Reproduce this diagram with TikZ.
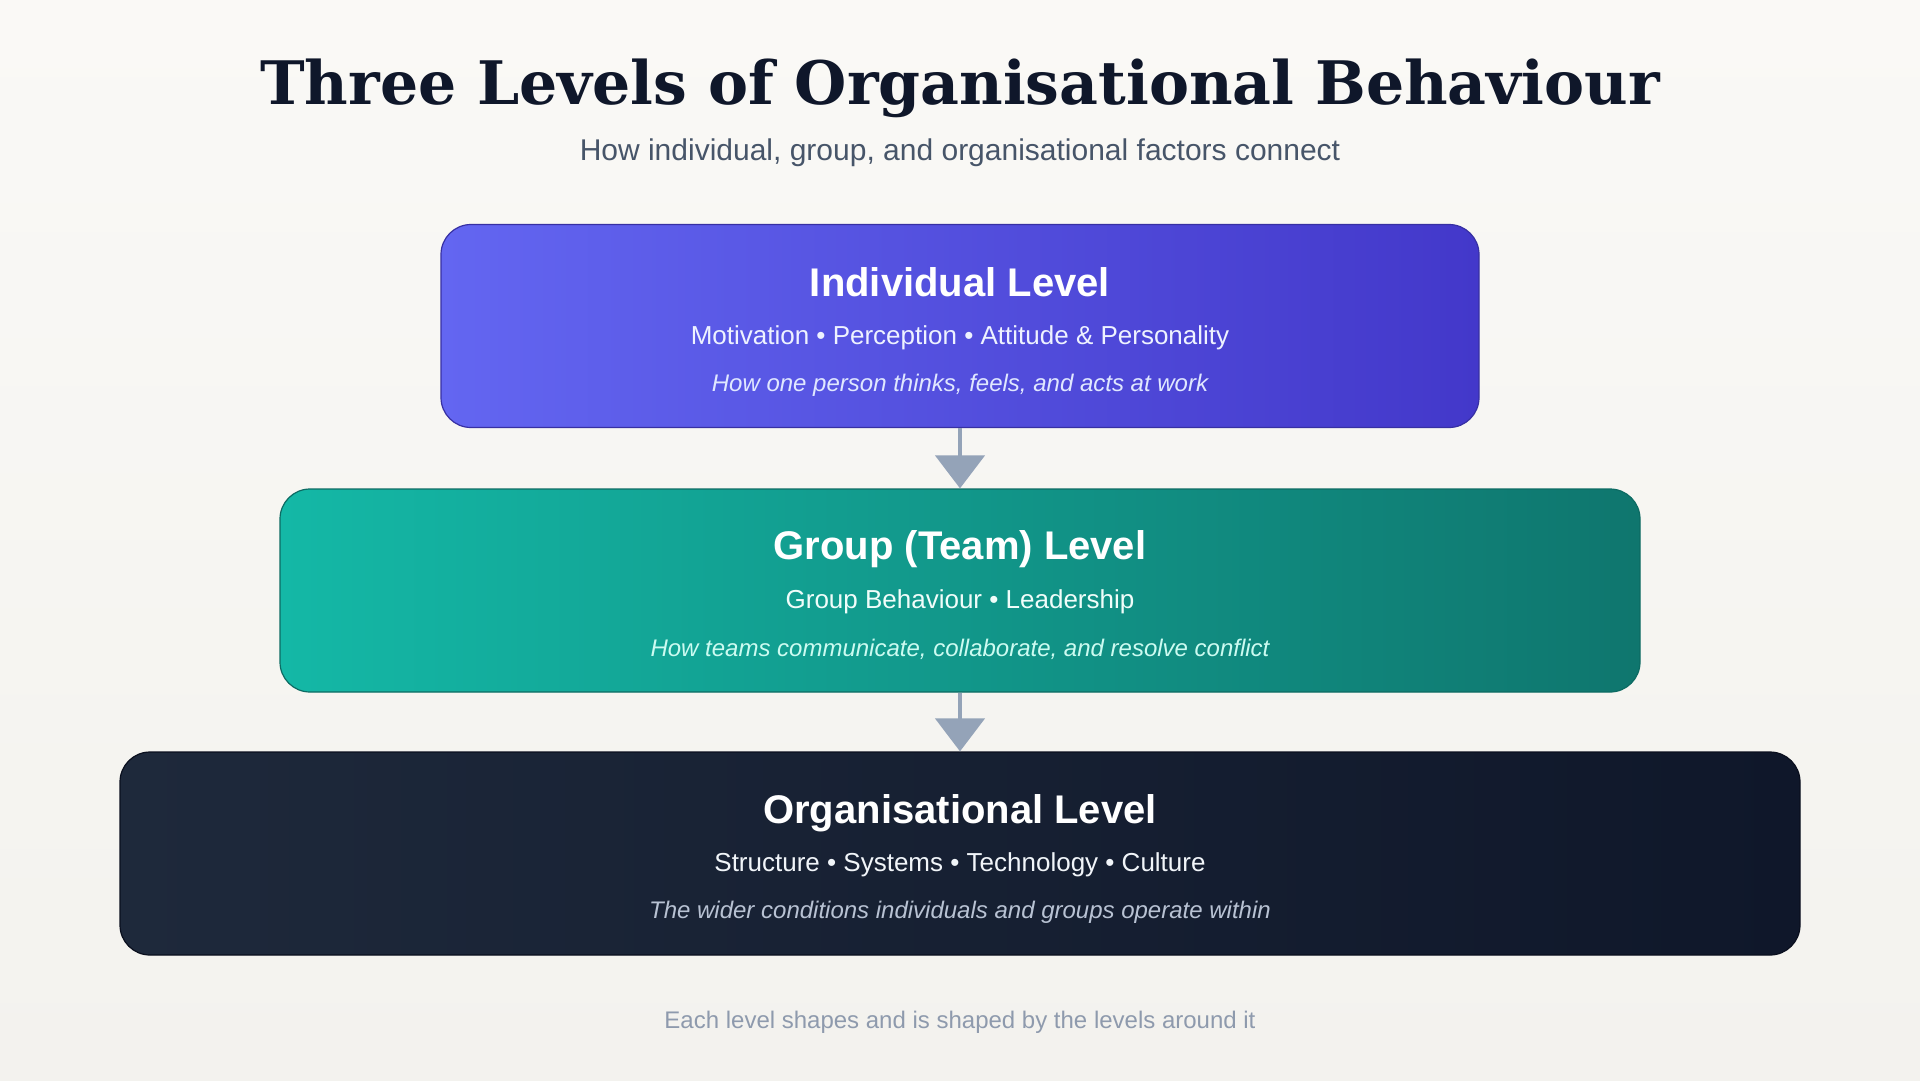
\documentclass[tikz,border=0pt]{standalone}
\usepackage{fontspec}
\setmainfont{Liberation Sans}
\newfontfamily\serifttl{DejaVu Serif}
\usetikzlibrary{arrows.meta}

\definecolor{bgA}{HTML}{FAF9F6}
\definecolor{bgB}{HTML}{F3F2EE}
\definecolor{ink}{HTML}{0F172A}
\definecolor{subink}{HTML}{475569}
\definecolor{footink}{HTML}{8E9AAD}
\definecolor{arrowc}{HTML}{94A3B8}
\definecolor{indA}{HTML}{6366F1}
\definecolor{indB}{HTML}{4338CA}
\definecolor{indE}{HTML}{3730A3}
\definecolor{indL}{HTML}{EEF2FF}
\definecolor{indD}{HTML}{E0E7FF}
\definecolor{grpA}{HTML}{14B8A6}
\definecolor{grpB}{HTML}{0F766E}
\definecolor{grpE}{HTML}{0D6B63}
\definecolor{grpL}{HTML}{F0FDFA}
\definecolor{grpD}{HTML}{CCFBF1}
\definecolor{orgA}{HTML}{1E293B}
\definecolor{orgB}{HTML}{0F172A}
\definecolor{orgE}{HTML}{0A0F1E}
\definecolor{orgL}{HTML}{F1F5F9}
\definecolor{orgD}{HTML}{B8C2D3}

\begin{document}
\begin{tikzpicture}[x=1pt, y=-1pt,
	level/.style={rounded corners=30pt, minimum height=203pt, inner sep=0pt, line width=1.2pt},
	hd/.style={anchor=base, text=white, font=\fontsize{40}{44}\selectfont\bfseries},
	ln/.style={anchor=base, font=\fontsize{26}{30}\selectfont},
	ds/.style={anchor=base, font=\fontsize{24}{28}\selectfont\itshape},
	conn/.style={draw=arrowc, line width=4.5pt, -{Triangle[width=49pt, length=33pt]}}]
	\useasboundingbox (0,0) rectangle (1920,1080);
	\shade[top color=bgA, bottom color=bgB] (0,0) rectangle (1920,1080);

	\node[anchor=base, text=ink, font=\serifttl\fontsize{60}{64}\selectfont\bfseries] (title) at (960,104) {Three Levels of Organisational Behaviour};
	\node[anchor=base, text=subink, font=\fontsize{30}{34}\selectfont] (sub) at (960,160) {How individual, group, and organisational factors connect};

	% the three levels
	\node[level, draw=indE, left color=indA, right color=indB, minimum width=1038pt] (ind) at (960,326) {};
	\node[level, draw=grpE, left color=grpA, right color=grpB, minimum width=1360pt] (grp) at (960,590.5) {};
	\node[level, draw=orgE, left color=orgA, right color=orgB, minimum width=1680pt] (org) at (960,853.5) {};

	\node[hd] (indT) at (960,296) {Individual Level};
	\node[ln, text=indL] (indF) at (960,344) {Motivation • Perception • Attitude \& Personality};
	\node[ds, text=indD] (indH) at (960,391) {How one person thinks, feels, and acts at work};

	\node[hd] (grpT) at (960,559) {Group (Team) Level};
	\node[ln, text=grpL] (grpF) at (960,608) {Group Behaviour • Leadership};
	\node[ds, text=grpD] (grpH) at (960,656) {How teams communicate, collaborate, and resolve conflict};

	\node[hd] (orgT) at (960,823) {Organisational Level};
	\node[ln, text=orgL] (orgF) at (960,871) {Structure • Systems • Technology • Culture};
	\node[ds, text=orgD] (orgH) at (960,918) {The wider conditions individuals and groups operate within};

	\draw[conn] (ind.south) -- (grp.north);
	\draw[conn] (grp.south) -- (org.north);

	\node[anchor=base, text=footink, font=\fontsize{24}{28}\selectfont] (foot) at (960,1028) {Each level shapes and is shaped by the levels around it};
\end{tikzpicture}
\end{document}
